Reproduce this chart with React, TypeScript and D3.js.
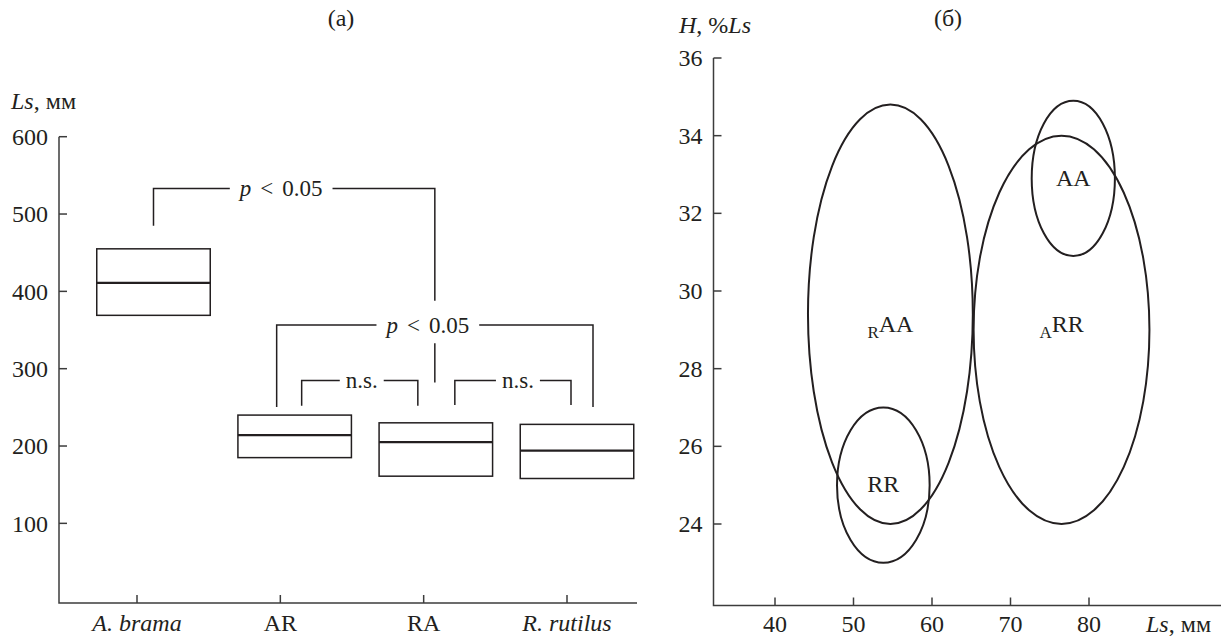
import React from "react"
import * as d3 from "d3"

// panel (a): box plots of body length
const categories = ["A. brama", "AR", "RA", "R. rutilus"]
const italicCategory = [true, false, false, true]
const boxLow = [369, 185, 161, 158]
const boxMedian = [411, 214, 205, 194]
const boxHigh = [455, 240, 230, 228]
const leftTicks = [100, 200, 300, 400, 500, 600]

// panel (б): ellipses H vs Ls
const ellipseMain = ["AA", "RR", "AA", "RR"]
const ellipseSub = ["", "", "R", "A"]
const ellipseCx = [78.0, 53.8, 54.7, 76.5]
const ellipseCy = [32.9, 25.0, 29.4, 29.0]
const ellipseRx = [5.3, 5.9, 10.5, 11.2]
const ellipseRy = [2.0, 2.0, 5.4, 5.0]
const labelH = [32.9, 25.0, 28.95, 28.95]
const rightXTicks = [40, 50, 60, 70, 80]
const rightYTicks = [24, 26, 28, 30, 32, 34, 36]

const W = 1223
const H = 637
const FONT = "Liberation Serif"
const INK = "#231f20"
const AXIS = "#3c3c3c"
const FS = 24

// text width through a canvas, so the bracket lines can leave a gap for the label
const ctx = typeof document !== "undefined" ? document.createElement("canvas").getContext("2d") : null
const measure = (txt: string, size: number, italic = false) => {
	if (!ctx) return txt.length * size * 0.5
	ctx.font = `${italic ? "italic " : ""}${size}px "${FONT}"`
	return ctx.measureText(txt).width
}

// scales, panel (a)
const yL = d3.scaleLinear().domain([-3, 600]).range([603, 136.7])
const xBox = d3.scaleBand().domain(categories).range([96.75, 633.75]).paddingInner(0.196).paddingOuter(0)
const xTick = d3.scalePoint().domain(categories).range([137, 567])
const bc = (c: string) => (xBox(c) as number) + xBox.bandwidth() / 2

// scales, panel (б)
const xs = d3.scaleLinear().domain([40, 80]).range([775, 1089])
const ys = d3.scaleLinear().domain([24, 36]).range([524, 58])

const txt = { fontFamily: FONT, fontSize: FS + "px" }

type BracketProps = {
	x1: number
	x2: number
	level: number
	leg1: number
	leg2: number
	label: "p" | "ns"
	shift: number
}

const Bracket = ({ x1, x2, level, leg1, leg2, label, shift }: BracketProps) => {
	const size = 23
	const yTop = yL(level)
	const mid = (x1 + x2) / 2 + shift
	const gapSp = 9
	const w =
		label === "p"
			? measure("p", size, true) + gapSp + measure("<", size) + gapSp + measure("0.05", size)
			: measure("n.s.", size)
	const pad = label === "p" ? 10 : 6
	const g1 = mid - w / 2 - pad
	const g2 = mid + w / 2 + pad
	return (
		<g>
			<path
				d={`M${x1},${yL(leg1)}V${yTop}H${g1}M${g2},${yTop}H${x2}V${yL(leg2)}`}
				fill="none"
				stroke={INK}
				strokeWidth={1.5}
			/>
			<text
				x={mid}
				y={yTop}
				dy="0.33em"
				textAnchor="middle"
				fill={INK}
				style={{ fontFamily: FONT, fontSize: size + "px" }}
			>
				{label === "p" ? (
					<>
						<tspan style={{ fontStyle: "italic" }}>p</tspan>
						<tspan dx={gapSp}>{"<"}</tspan>
						<tspan dx={gapSp}>0.05</tspan>
					</>
				) : (
					"n.s."
				)}
			</text>
		</g>
	)
}

export default function App() {
	const lowX1 = bc("AR") - 18
	const lowX2 = bc("R. rutilus") + 16
	const lowMid = (lowX1 + lowX2) / 2

	return (
		<svg
			width={W}
			height={H}
			style={{ position: "absolute", left: 0, top: 0, background: "#fff" }}
		>
			{/* ---------- panel (a) ---------- */}
			<g>
				<text x={341} y={26} textAnchor="middle" fill={INK} style={txt}>
					(a)
				</text>
				<text x={11} y={109} fill={INK} style={txt}>
					<tspan style={{ fontStyle: "italic" }}>Ls</tspan>, мм
				</text>

				<path d={`M59,${yL(600)}V603H637`} fill="none" stroke={AXIS} strokeWidth={1.5} />
				{leftTicks.map(v => (
					<g key={v}>
						<line x1={59} x2={67} y1={yL(v)} y2={yL(v)} stroke={AXIS} strokeWidth={1.5} />
						<text x={48} y={yL(v)} dy="0.34em" textAnchor="end" fill={INK} style={txt}>
							{v}
						</text>
					</g>
				))}
				{categories.map((c, i) => (
					<g key={c}>
						<line
							x1={xTick(c)}
							x2={xTick(c)}
							y1={603}
							y2={595}
							stroke={AXIS}
							strokeWidth={1.5}
						/>
						<text
							x={xTick(c)}
							y={631}
							textAnchor="middle"
							fill={INK}
							style={{ ...txt, fontStyle: italicCategory[i] ? "italic" : "normal" }}
						>
							{c}
						</text>
					</g>
				))}

				{categories.map((c, i) => (
					<g key={c}>
						<rect
							x={xBox(c)}
							y={yL(boxHigh[i])}
							width={xBox.bandwidth()}
							height={yL(boxLow[i]) - yL(boxHigh[i])}
							fill="none"
							stroke={INK}
							strokeWidth={1.5}
						/>
						<line
							x1={xBox(c)}
							x2={(xBox(c) as number) + xBox.bandwidth()}
							y1={yL(boxMedian[i])}
							y2={yL(boxMedian[i])}
							stroke={INK}
							strokeWidth={2.2}
						/>
					</g>
				))}

				<Bracket x1={bc("A. brama")} x2={lowMid} level={533} leg1={485} leg2={388} label="p" shift={-13} />
				<Bracket x1={lowX1} x2={lowX2} level={356.5} leg1={250.4} leg2={250.4} label="p" shift={-7} />
				<line x1={lowMid} x2={lowMid} y1={yL(333)} y2={yL(282)} stroke={INK} strokeWidth={1.5} />
				<Bracket x1={bc("AR") + 7} x2={bc("RA") - 18} level={284.8} leg1={252} leg2={252} label="ns" shift={2} />
				<Bracket
					x1={bc("RA") + 19}
					x2={bc("R. rutilus") - 6}
					level={284.8}
					leg1={253}
					leg2={253}
					label="ns"
					shift={5}
				/>
			</g>

			{/* ---------- panel (б) ---------- */}
			<g>
				<text x={948} y={26} textAnchor="middle" fill={INK} style={txt}>
					(б)
				</text>
				<text x={679} y={33} fill={INK} style={txt}>
					<tspan style={{ fontStyle: "italic" }}>H</tspan>, %<tspan style={{ fontStyle: "italic" }}>Ls</tspan>
				</text>
				<text x={1146} y={632} fill={INK} style={txt}>
					<tspan style={{ fontStyle: "italic" }}>Ls</tspan>, мм
				</text>

				<path d={`M713.5,${ys(36)}V605.5H1221`} fill="none" stroke={AXIS} strokeWidth={1.5} />
				{rightYTicks.map(v => (
					<g key={v}>
						<line x1={713.5} x2={721.5} y1={ys(v)} y2={ys(v)} stroke={AXIS} strokeWidth={1.5} />
						<text x={702.5} y={ys(v)} dy="0.34em" textAnchor="end" fill={INK} style={txt}>
							{v}
						</text>
					</g>
				))}
				{rightXTicks.map(v => (
					<g key={v}>
						<line x1={xs(v)} x2={xs(v)} y1={605.5} y2={597.5} stroke={AXIS} strokeWidth={1.5} />
						<text x={xs(v)} y={632} textAnchor="middle" fill={INK} style={txt}>
							{v}
						</text>
					</g>
				))}

				{ellipseMain.map((m, i) => {
					const ex = xs(ellipseCx[i])
					const ey = ys(ellipseCy[i])
					return (
						<g key={i}>
							<ellipse
								cx={ex}
								cy={ey}
								rx={xs(ellipseCx[i] + ellipseRx[i]) - ex}
								ry={ys(ellipseCy[i] - ellipseRy[i]) - ey}
								fill="none"
								stroke={INK}
								strokeWidth={2}
							/>
							<text x={ex} y={ys(labelH[i])} dy="0.3em" textAnchor="middle" fill={INK} style={txt}>
								{ellipseSub[i] ? (
									<>
										<tspan dy={6} style={{ fontSize: "17px" }}>
											{ellipseSub[i]}
										</tspan>
										<tspan dy={-6}>{m}</tspan>
									</>
								) : (
									m
								)}
							</text>
						</g>
					)
				})}
			</g>
		</svg>
	)
}
